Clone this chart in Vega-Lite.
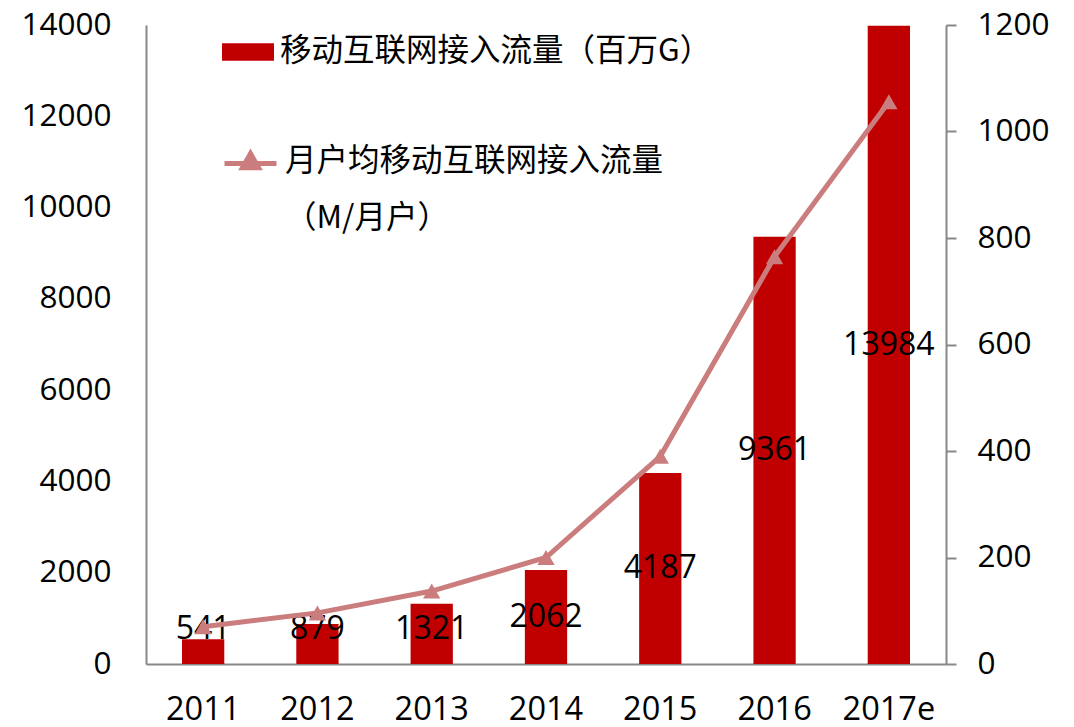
{
  "$schema": "https://vega.github.io/schema/vega-lite/v6.json",
  "width": 800,
  "height": 639,
  "autosize": "none",
  "padding": {"left": 146, "top": 25, "right": 128, "bottom": 63},
  "background": "white",
  "config": {
    "font": "Noto Sans CJK SC",
    "view": {"stroke": null},
    "axis": {"labelFont": "Open Sans", "labelFontSize": 31.5, "labelColor": "#000000", "grid": false, "domainColor": "#888888", "domainWidth": 2, "tickColor": "#888888", "tickWidth": 2}
  },
  "data": {
    "values": [
      {"year": "2011", "flow": 541, "perUser": 70},
      {"year": "2012", "flow": 879, "perUser": 96},
      {"year": "2013", "flow": 1321, "perUser": 137},
      {"year": "2014", "flow": 2062, "perUser": 200},
      {"year": "2015", "flow": 4187, "perUser": 390},
      {"year": "2016", "flow": 9361, "perUser": 765},
      {"year": "2017e", "flow": 13984, "perUser": 1056}
    ]
  },
  "transform": [
    {"calculate": "'移动互联网接入流量（百万G）'", "as": "barSeries"},
    {"calculate": "'月户均移动互联网接入流量'", "as": "lineSeries"},
    {"calculate": "max(datum.flow / 2, 770)", "as": "labelPos"}
  ],
  "encoding": {
    "x": {
      "field": "year", "type": "ordinal", "title": null,
      "scale": {"paddingInner": 0.63, "paddingOuter": 0.315},
      "axis": {"labelAngle": 0, "ticks": false, "labelPadding": 29, "domainColor": "#888888", "labelFontSize": 32.5}
    }
  },
  "layer": [
    {
      "layer": [
        {
          "mark": {"type": "bar", "color": "#C00000"},
          "encoding": {
            "y": {"field": "flow", "type": "quantitative", "title": null,
              "scale": {"domain": [0, 14000], "nice": false},
              "axis": {"values": [0, 2000, 4000, 6000, 8000, 10000, 12000, 14000], "ticks": false, "labelPadding": 35, "format": "d", "title": null}},
            "fill": {"field": "barSeries", "type": "nominal", "title": null,
              "scale": {"range": ["#C00000"]},
              "legend": {"orient": "none", "legendX": 76, "legendY": 1, "symbolType": "M-1,-0.34H1V0.34H-1Z", "symbolSize": 2704, "symbolStrokeWidth": 0, "labelFontSize": 31.5, "labelFont": "Noto Sans CJK SC", "labelColor": "#000000", "labelLimit": 700, "labelOffset": 6}}
          }
        },
        {
          "mark": {"type": "text", "fontSize": 32, "color": "#000000", "baseline": "middle", "align": "center", "font": "Open Sans"},
          "encoding": {
            "y": {"field": "labelPos", "type": "quantitative", "title": null, "scale": {"domain": [0, 14000], "nice": false}},
            "text": {"field": "flow", "type": "quantitative", "format": "d"}
          }
        }
      ]
    },
    {
      "layer": [
        {
          "mark": {"type": "line", "color": "#CB7D7D", "strokeWidth": 5},
          "encoding": {
            "y": {"field": "perUser", "type": "quantitative", "title": null,
              "scale": {"domain": [0, 1200], "nice": false},
              "axis": {"orient": "right", "values": [0, 200, 400, 600, 800, 1000, 1200], "tickSize": 10, "labelPadding": 21, "format": "d", "title": null}},
            "stroke": {"field": "lineSeries", "type": "nominal", "title": null,
              "scale": {"range": ["#CB7D7D"]},
              "legend": {"orient": "none", "legendX": 76, "legendY": 110, "symbolType": "M-1,0H1M-0.31,0.16L0,-0.38L0.31,0.16Z", "symbolSize": 2704, "symbolStrokeWidth": 5, "symbolFillColor": "#CB7D7D", "labelFontSize": 31.5, "labelFont": "Noto Sans CJK SC", "labelColor": "#000000", "labelLimit": 700, "labelOffset": 6, "labelBaseline": "top", "labelExpr": "['月户均移动互联网接入流量', ' （M/月户）']",
                "encode": {"labels": {"update": {"lineHeight": {"value": 57}, "dy": {"value": -18}}}}}}
          }
        },
        {
          "mark": {"type": "point", "shape": "triangle-up", "filled": true, "size": 300, "color": "#CB7D7D", "opacity": 1},
          "encoding": {
            "y": {"field": "perUser", "type": "quantitative", "title": null, "scale": {"domain": [0, 1200], "nice": false}}
          }
        }
      ]
    }
  ],
  "resolve": {"scale": {"y": "independent"}}
}
